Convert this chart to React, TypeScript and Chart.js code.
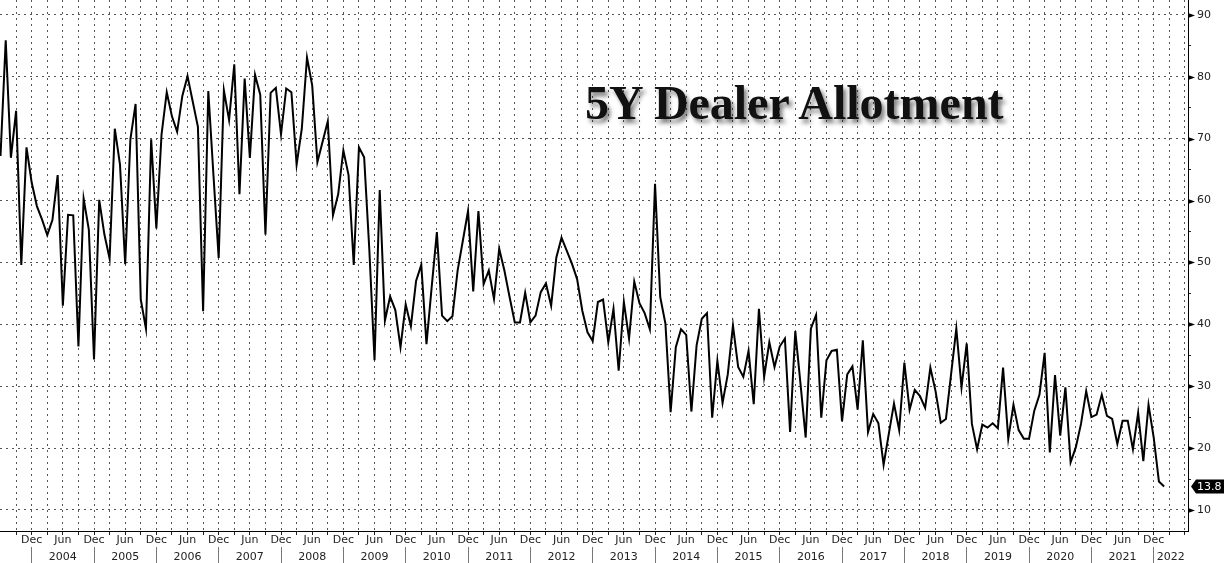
import { useEffect, useRef } from "react"
import { Chart, registerables } from "chart.js"

Chart.register(...registerables)

// 5Y auction dealer allotment (%), one value per month, first value is Jun 2003
const values2003 = [67.2, 85.9, 66.9, 74.5, 49.6, 68.6, 62.9]
const values2004 = [59.1, 56.9, 54.4, 56.9, 64.1, 43.0, 57.7, 57.6, 36.4, 60.3, 55.3, 34.3]
const values2005 = [60.1, 54.5, 50.6, 71.6, 65.8, 49.7, 69.9, 75.6, 44.0, 39.3, 69.9, 55.5]
const values2006 = [70.7, 77.5, 73.6, 71.1, 76.9, 80.1, 76.0, 71.9, 42.1, 77.7, 64.0, 50.7]
const values2007 = [77.8, 73.0, 82.0, 61.0, 79.7, 66.9, 80.3, 77.1, 54.5, 77.4, 78.2, 70.7]
const values2008 = [78.1, 77.5, 65.8, 71.6, 83.1, 78.6, 66.2, 69.5, 72.8, 57.6, 61.0, 68.1]
const values2009 = [64.1, 49.6, 68.6, 67.0, 52.0, 34.2, 61.7, 40.6, 44.5, 42.3, 36.3, 43.2]
const values2010 = [39.7, 47.0, 49.6, 36.8, 46.0, 54.9, 41.4, 40.5, 41.3, 48.7, 53.5, 58.3]
const values2011 = [45.3, 58.3, 46.5, 48.7, 44.1, 52.2, 48.7, 44.4, 40.3, 40.3, 45.1, 40.3]
const values2012 = [41.4, 45.2, 46.6, 43.0, 50.8, 54.0, 51.9, 49.8, 47.3, 42.2, 38.7, 37.3]
const values2013 = [43.6, 44.0, 37.1, 42.5, 32.5, 43.6, 37.7, 46.9, 43.4, 41.8, 39.2, 62.7]
const values2014 = [44.4, 40.1, 25.8, 36.3, 39.2, 38.3, 25.9, 36.6, 40.9, 41.8, 24.9, 34.1]
const values2015 = [27.3, 31.9, 39.8, 33.1, 31.5, 35.7, 27.1, 42.5, 31.5, 37.1, 33.1, 36.4]
const values2016 = [37.7, 22.6, 38.9, 30.4, 21.7, 39.3, 41.5, 24.9, 34.2, 35.7, 35.9, 24.3]
const values2017 = [31.9, 33.2, 26.2, 37.4, 22.6, 25.5, 24.0, 17.3, 22.3, 27.2, 22.9, 33.8]
const values2018 = [26.2, 29.4, 28.4, 26.5, 33.0, 29.2, 24.1, 24.7, 32.0, 39.3, 29.8, 36.9]
const values2019 = [23.9, 19.8, 23.8, 23.3, 24.0, 23.2, 33.0, 21.5, 27.0, 22.9, 21.5, 21.5]
const values2020 = [26.0, 28.6, 35.4, 19.3, 31.8, 22.0, 29.8, 17.7, 20.1, 23.9, 29.2, 25.0]
const values2021 = [25.4, 28.6, 25.2, 24.7, 20.7, 24.4, 24.4, 19.8, 25.7, 17.9, 27.0, 21.7]
const values2022 = [14.6, 13.8]

const allotment = [
  ...values2003, ...values2004, ...values2005, ...values2006, ...values2007,
  ...values2008, ...values2009, ...values2010, ...values2011, ...values2012,
  ...values2013, ...values2014, ...values2015, ...values2016, ...values2017,
  ...values2018, ...values2019, ...values2020, ...values2021, ...values2022,
]

const FIRST_MONTH = 5 // month of year of the first value (0 = Jan)
const monthTickNames: Record<number, string> = { 5: "Jun", 11: "Dec" }
const yearLabels = [
  "2004", "2005", "2006", "2007", "2008", "2009", "2010", "2011", "2012", "2013",
  "2014", "2015", "2016", "2017", "2018", "2019", "2020", "2021", "2022",
]
const yTicks = [10, 15, 20, 25, 30, 35, 40, 45, 50, 55, 60, 65, 70, 75, 80, 85, 90]

const X_MIN = -0.1
const X_MAX = 228.6
const Y_MIN = 6.6
const Y_MAX = 92.4

const axisFont = { family: "'DejaVu Sans', sans-serif", size: 11 }
const textColor = "#222"

// quarterly grid positions (Mar / Jun / Sep / Dec), first one is Sep 2003
const gridMonths: number[] = []
for (let i = 1; i <= X_MAX; i++) {
  if ((FIRST_MONTH + i) % 3 === 2) gridMonths.push(i)
}

// year row: separators at each December, label centred on the year span
const yearSeparators: number[] = []
const yearTickLabels = new Map<number, string>()
yearLabels.forEach((label, k) => {
  const start = 11 - FIRST_MONTH + 12 * k
  const end = Math.min(start + 12, X_MAX)
  yearSeparators.push(start)
  yearTickLabels.set((start + end) / 2, label)
})

const isMajor = (v: number) => v % 10 === 0

// small pointer marks on the right axis + last value badge
const axisMarks = {
  id: "axisMarks",
  afterDraw(chart: Chart) {
    const { ctx } = chart
    const yScale = chart.scales.y
    const x0 = yScale.left
    ctx.save()
    ctx.fillStyle = "#000"
    yTicks.filter(isMajor).forEach((v) => {
      const y = Math.round(yScale.getPixelForValue(v)) + 0.5
      ctx.beginPath()
      ctx.moveTo(x0, y - 2.5)
      ctx.lineTo(x0 + 7, y)
      ctx.lineTo(x0, y + 2.5)
      ctx.closePath()
      ctx.fill()
    })

    const last = allotment[allotment.length - 1]
    const y = yScale.getPixelForValue(last)
    const x = x0 + 3
    ctx.beginPath()
    ctx.moveTo(x, y)
    ctx.lineTo(x + 5, y - 7)
    ctx.lineTo(chart.width, y - 7)
    ctx.lineTo(chart.width, y + 7)
    ctx.lineTo(x + 5, y + 7)
    ctx.closePath()
    ctx.fill()
    ctx.fillStyle = "#fff"
    ctx.font = "11px 'DejaVu Sans', sans-serif"
    ctx.textBaseline = "middle"
    ctx.textAlign = "left"
    ctx.fillText(last.toFixed(1), x + 6, y + 0.5)
    ctx.restore()
  },
}

export default function App() {
  const chartRef = useRef<HTMLCanvasElement>(null)
  const chartInstance = useRef<Chart | null>(null)

  useEffect(() => {
    document.body.style.margin = "0"
    if (!chartRef.current) return
    if (chartInstance.current) chartInstance.current.destroy()

    const ctx = chartRef.current.getContext("2d")
    if (!ctx) return

    chartInstance.current = new Chart(ctx, {
      type: "line",
      data: {
        datasets: [
          {
            label: "5Y Dealer Allotment",
            data: allotment.map((v, i) => ({ x: i, y: v })),
            borderColor: "#000",
            borderWidth: 2,
            pointRadius: 0,
            tension: 0,
            fill: false,
          },
        ],
      },
      options: {
        animation: false,
        responsive: true,
        maintainAspectRatio: false,
        layout: { padding: 0 },
        plugins: {
          legend: { display: false },
          tooltip: { enabled: false },
        },
        scales: {
          x: {
            type: "linear",
            position: "bottom",
            bounds: "data",
            min: X_MIN,
            max: X_MAX,
            weight: 0,
            afterBuildTicks: (scale: any) => {
              scale.ticks = gridMonths.map((v) => ({ value: v }))
            },
            afterFit: (scale: any) => {
              scale.height = 16
              scale.paddingLeft = 0
              scale.paddingRight = 0
            },
            grid: {
              color: "#555",
              lineWidth: 1,
              tickColor: "#222",
              tickLength: 4,
              tickBorderDash: [],
            },
            border: { display: true, color: "#000", width: 1, dash: [2, 4] },
            ticks: {
              autoSkip: false,
              maxRotation: 0,
              minRotation: 0,
              padding: -1,
              color: textColor,
              font: axisFont,
              callback: (value: any) => {
                const i = Number(value)
                if (i > allotment.length - 1) return ""
                return monthTickNames[(FIRST_MONTH + i) % 12] ?? ""
              },
            },
          },
          x2: {
            type: "linear",
            position: "bottom",
            bounds: "data",
            min: X_MIN,
            max: X_MAX,
            weight: 1,
            afterBuildTicks: (scale: any) => {
              const values = [...yearSeparators, ...yearTickLabels.keys()].sort((a, b) => a - b)
              scale.ticks = values.map((v) => ({ value: v }))
            },
            afterFit: (scale: any) => {
              scale.height = 16
              scale.paddingLeft = 0
              scale.paddingRight = 0
            },
            grid: {
              drawOnChartArea: false,
              drawTicks: true,
              tickLength: 16,
              color: "transparent",
              tickColor: (c: any) =>
                c.tick && yearSeparators.includes(c.tick.value) ? "#777" : "transparent",
              tickWidth: 1,
              tickBorderDash: [],
            },
            border: { display: false },
            ticks: {
              autoSkip: false,
              maxRotation: 0,
              minRotation: 0,
              padding: -12.6,
              color: textColor,
              font: axisFont,
              callback: (value: any) => yearTickLabels.get(Number(value)) ?? "",
            },
          },
          y: {
            type: "linear",
            position: "right",
            bounds: "data",
            min: Y_MIN,
            max: Y_MAX,
            afterBuildTicks: (scale: any) => {
              scale.ticks = yTicks.map((v) => ({ value: v }))
            },
            afterFit: (scale: any) => {
              scale.width = 36
              scale.paddingTop = 0
              scale.paddingBottom = 0
            },
            grid: {
              color: (c: any) => (c.tick && isMajor(c.tick.value) ? "#555" : "transparent"),
              lineWidth: 1,
              tickColor: (c: any) => (c.tick && isMajor(c.tick.value) ? "transparent" : "#222"),
              tickLength: 3,
              tickWidth: 1,
              tickBorderDash: [],
            },
            border: { display: true, color: "#000", width: 1, dash: [2, 4] },
            ticks: {
              autoSkip: false,
              padding: 6,
              color: textColor,
              font: axisFont,
              callback: (value: any) => (isMajor(Number(value)) ? String(value) : ""),
            },
          },
        },
      },
      plugins: [axisMarks],
    })

    return () => {
      if (chartInstance.current) {
        chartInstance.current.destroy()
        chartInstance.current = null
      }
    }
  }, [])

  return (
    <div style={{ position: "relative", width: 1224, height: 563, background: "#fff" }}>
      <canvas ref={chartRef} aria-label="5Y Dealer Allotment chart"></canvas>
      <div
        style={{
          position: "absolute",
          left: 585,
          top: 79,
          fontFamily: "'Liberation Serif', 'Times New Roman', serif",
          fontWeight: "bold",
          fontSize: 48,
          lineHeight: "48px",
          color: "#111",
          whiteSpace: "nowrap",
          textShadow: "3px 4px 4px rgba(0,0,0,0.5)",
          pointerEvents: "none",
        }}
      >
        5Y Dealer Allotment
      </div>
    </div>
  )
}
